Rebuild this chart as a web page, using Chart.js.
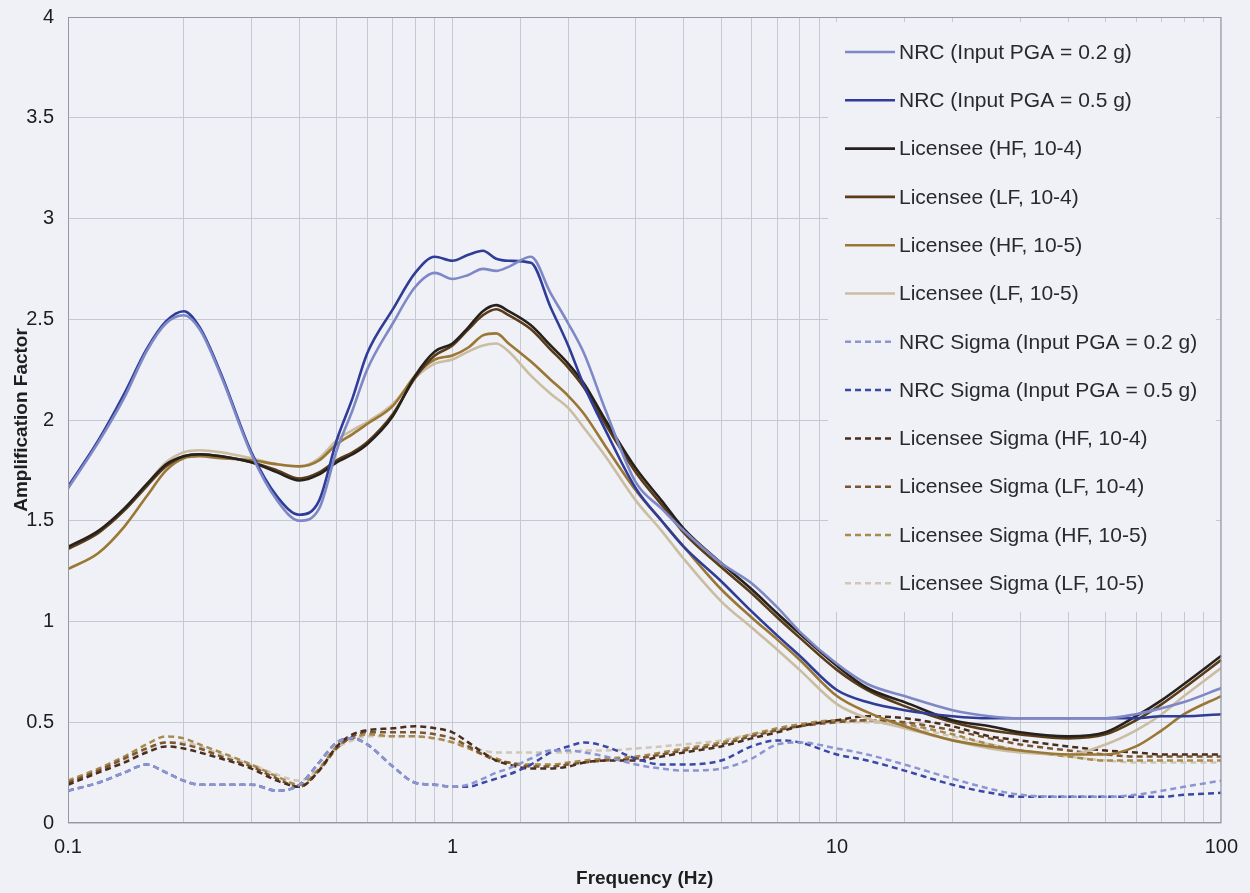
<!DOCTYPE html>
<html>
<head>
<meta charset="utf-8">
<title>Amplification Factor</title>
<script src="https://cdn.jsdelivr.net/npm/chart.js@4.4.1/dist/chart.umd.min.js"></script>
<style>
    html, body { margin: 0; padding: 0; background: #eff1f6; }
    #ampChart { display: block; }
</style>
</head>
<body>
<canvas id="ampChart" width="1250" height="893"></canvas>
<script>
// frequency points (Hz) shared by every curve
const freq = [0.1, 0.12, 0.14, 0.16, 0.18, 0.2, 0.22, 0.25, 0.3, 0.35, 0.4, 0.45, 0.5, 0.55, 0.6, 0.7, 0.8, 0.9,
    1, 1.1, 1.2, 1.3, 1.4, 1.6, 1.8, 2, 2.2, 2.5, 3, 3.5, 4, 5, 6, 7, 8, 10, 12, 15, 20, 25, 30, 40, 50, 60, 70, 80, 100];

const xTickLabels = [0.1, 1, 10, 100];
const yTicks = [0, 0.5, 1, 1.5, 2, 2.5, 3, 3.5, 4];

const seriesNames = [
    'NRC (Input PGA = 0.2 g)', 'NRC (Input PGA = 0.5 g)',
    'Licensee (HF, 10-4)', 'Licensee (LF, 10-4)', 'Licensee (HF, 10-5)', 'Licensee (LF, 10-5)',
    'NRC Sigma (Input PGA = 0.2 g)', 'NRC Sigma (Input PGA = 0.5 g)',
    'Licensee Sigma (HF, 10-4)', 'Licensee Sigma (LF, 10-4)', 'Licensee Sigma (HF, 10-5)', 'Licensee Sigma (LF, 10-5)'
];

const nrcPga02 = [1.66, 1.89, 2.11, 2.34, 2.48, 2.52, 2.45, 2.22, 1.83, 1.60, 1.50, 1.56, 1.85, 2.05, 2.25, 2.48, 2.66, 2.73,
    2.70, 2.72, 2.75, 2.74, 2.76, 2.81, 2.63, 2.48, 2.33, 2.05, 1.69, 1.56, 1.45, 1.29, 1.19, 1.07, 0.95, 0.79, 0.69, 0.63, 0.56, 0.53, 0.52, 0.52, 0.52, 0.54, 0.57, 0.60, 0.67];
const nrcPga05 = [1.67, 1.90, 2.13, 2.35, 2.49, 2.54, 2.46, 2.23, 1.84, 1.62, 1.53, 1.60, 1.90, 2.11, 2.33, 2.55, 2.73, 2.81,
    2.79, 2.82, 2.84, 2.80, 2.79, 2.78, 2.56, 2.37, 2.17, 1.95, 1.66, 1.50, 1.37, 1.20, 1.05, 0.93, 0.83, 0.66, 0.60, 0.56, 0.53, 0.52, 0.52, 0.52, 0.52, 0.52, 0.53, 0.53, 0.54];
const licHF4 = [1.37, 1.45, 1.56, 1.68, 1.78, 1.82, 1.83, 1.82, 1.79, 1.74, 1.70, 1.73, 1.79, 1.83, 1.88, 2.02, 2.22, 2.34,
    2.38, 2.46, 2.54, 2.57, 2.54, 2.47, 2.37, 2.28, 2.18, 2.00, 1.76, 1.60, 1.46, 1.29, 1.16, 1.04, 0.94, 0.78, 0.67, 0.60, 0.51, 0.48, 0.45, 0.43, 0.45, 0.53, 0.61, 0.69, 0.83];
const licLF4 = [1.36, 1.44, 1.55, 1.67, 1.77, 1.82, 1.83, 1.82, 1.79, 1.75, 1.71, 1.74, 1.80, 1.84, 1.89, 2.03, 2.21, 2.32,
    2.37, 2.45, 2.52, 2.55, 2.52, 2.45, 2.35, 2.26, 2.16, 1.98, 1.74, 1.58, 1.44, 1.27, 1.14, 1.02, 0.92, 0.76, 0.66, 0.58, 0.50, 0.46, 0.44, 0.42, 0.44, 0.51, 0.59, 0.67, 0.81];
const licHF5 = [1.26, 1.34, 1.47, 1.62, 1.75, 1.81, 1.82, 1.81, 1.80, 1.78, 1.77, 1.80, 1.88, 1.93, 1.98, 2.07, 2.22, 2.30,
    2.32, 2.36, 2.42, 2.43, 2.38, 2.29, 2.20, 2.12, 2.03, 1.87, 1.65, 1.50, 1.37, 1.16, 1.02, 0.91, 0.81, 0.63, 0.55, 0.48, 0.41, 0.38, 0.36, 0.34, 0.34, 0.38, 0.46, 0.54, 0.63];
const licLF5 = [1.37, 1.45, 1.56, 1.68, 1.79, 1.84, 1.85, 1.84, 1.81, 1.78, 1.77, 1.81, 1.90, 1.95, 1.99, 2.08, 2.21, 2.28,
    2.30, 2.34, 2.37, 2.38, 2.34, 2.22, 2.13, 2.06, 1.96, 1.82, 1.60, 1.45, 1.31, 1.10, 0.97, 0.86, 0.76, 0.59, 0.52, 0.47, 0.41, 0.37, 0.35, 0.34, 0.39, 0.46, 0.54, 0.63, 0.77];

const nrcSigma02 = [0.16, 0.20, 0.25, 0.29, 0.25, 0.21, 0.19, 0.19, 0.19, 0.16, 0.19, 0.30, 0.40, 0.42, 0.39, 0.28, 0.20, 0.19,
    0.18, 0.19, 0.22, 0.25, 0.27, 0.32, 0.36, 0.36, 0.35, 0.33, 0.29, 0.27, 0.26, 0.27, 0.32, 0.39, 0.40, 0.37, 0.34, 0.29, 0.22, 0.17, 0.14, 0.13, 0.13, 0.14, 0.16, 0.18, 0.21];
const nrcSigma05 = [0.16, 0.20, 0.25, 0.29, 0.25, 0.21, 0.19, 0.19, 0.19, 0.16, 0.19, 0.30, 0.40, 0.42, 0.39, 0.28, 0.20, 0.19,
    0.18, 0.18, 0.20, 0.22, 0.24, 0.29, 0.35, 0.38, 0.40, 0.38, 0.32, 0.29, 0.29, 0.31, 0.38, 0.41, 0.40, 0.34, 0.31, 0.26, 0.19, 0.15, 0.13, 0.13, 0.13, 0.13, 0.13, 0.14, 0.15];
const licSigmaHF4 = [0.19, 0.25, 0.30, 0.35, 0.38, 0.37, 0.35, 0.32, 0.27, 0.21, 0.18, 0.26, 0.38, 0.44, 0.46, 0.47, 0.48, 0.47,
    0.45, 0.40, 0.35, 0.31, 0.29, 0.27, 0.27, 0.28, 0.30, 0.31, 0.31, 0.33, 0.35, 0.38, 0.42, 0.45, 0.48, 0.51, 0.53, 0.52, 0.48, 0.43, 0.41, 0.38, 0.36, 0.35, 0.34, 0.34, 0.34];
const licSigmaLF4 = [0.20, 0.26, 0.32, 0.37, 0.40, 0.39, 0.37, 0.33, 0.28, 0.22, 0.18, 0.26, 0.37, 0.43, 0.45, 0.45, 0.45, 0.44,
    0.42, 0.38, 0.34, 0.31, 0.30, 0.28, 0.28, 0.29, 0.30, 0.31, 0.32, 0.34, 0.36, 0.39, 0.43, 0.46, 0.48, 0.50, 0.51, 0.50, 0.46, 0.42, 0.39, 0.36, 0.34, 0.33, 0.33, 0.33, 0.33];
const licSigmaHF5 = [0.21, 0.27, 0.33, 0.39, 0.43, 0.42, 0.39, 0.35, 0.29, 0.23, 0.19, 0.27, 0.38, 0.42, 0.44, 0.43, 0.43, 0.42,
    0.40, 0.37, 0.34, 0.32, 0.30, 0.29, 0.29, 0.30, 0.31, 0.32, 0.33, 0.35, 0.37, 0.40, 0.44, 0.47, 0.49, 0.51, 0.51, 0.49, 0.44, 0.39, 0.36, 0.33, 0.31, 0.31, 0.31, 0.31, 0.31];
const licSigmaLF5 = [0.20, 0.26, 0.31, 0.36, 0.40, 0.40, 0.38, 0.34, 0.29, 0.24, 0.21, 0.27, 0.37, 0.41, 0.43, 0.43, 0.43, 0.42,
    0.40, 0.38, 0.36, 0.35, 0.35, 0.35, 0.35, 0.35, 0.36, 0.36, 0.37, 0.38, 0.39, 0.41, 0.44, 0.46, 0.48, 0.50, 0.50, 0.48, 0.43, 0.39, 0.36, 0.33, 0.31, 0.30, 0.30, 0.30, 0.30];

(function () {
    const fontFamily = '"Liberation Sans", Arial, sans-serif';
    const bgColor = '#eff1f6';
    const gridColor = '#c6c9d3';

    function Points(values) {
        return freq.map(function (f, i) { return { x: f, y: values[i] }; });
    }

    function Series(index, values, color, dashed) {
        return {
            label: seriesNames[index],
            data: Points(values),
            borderColor: color,
            backgroundColor: color,
            borderWidth: dashed ? 2.5 : 2.6,
            borderDash: dashed ? [6, 4] : [],
            pointRadius: 0,
            cubicInterpolationMode: 'monotone',
            fill: false
        };
    }

    // paints the page colour, the legend box inside the plot and the plot frame
    const chartDecor = {
        id: 'chartDecor',
        beforeDraw: function (chart) {
            const ctx = chart.ctx;
            ctx.save();
            ctx.fillStyle = bgColor;
            ctx.fillRect(0, 0, chart.width, chart.height);
            ctx.restore();
        },
        afterDraw: function (chart, args, opts) {
            const ctx = chart.ctx;
            const area = chart.chartArea;
            ctx.save();
            ctx.fillStyle = bgColor;
            ctx.fillRect(opts.boxX, opts.boxY, opts.boxW, opts.boxH);

            ctx.font = '21px ' + fontFamily;
            ctx.textBaseline = 'middle';
            ctx.textAlign = 'left';
            chart.data.datasets.forEach(function (ds, i) {
                const y = opts.top + i * opts.rowGap;
                ctx.beginPath();
                ctx.setLineDash(ds.borderDash || []);
                ctx.strokeStyle = ds.borderColor;
                ctx.lineWidth = ds.borderWidth;
                ctx.moveTo(opts.left, y);
                ctx.lineTo(opts.left + opts.lineLength, y);
                ctx.stroke();
                ctx.setLineDash([]);
                ctx.fillStyle = '#2a2a2e';
                ctx.fillText(ds.label, opts.left + opts.lineLength + 4, y + 1);
            });

            ctx.strokeStyle = '#9498a3';
            ctx.lineWidth = 1;
            ctx.strokeRect(area.left + 0.5, area.top + 0.5, area.right - area.left - 1, area.bottom - area.top - 1);
            ctx.restore();
        }
    };

    function AmplificationChart() {
        const ctx = document.getElementById('ampChart').getContext('2d');
        const chart = new Chart(ctx, {
            type: 'line',
            data: {
                datasets: [
                    Series(0, nrcPga02, '#7f88c6', false),
                    Series(1, nrcPga05, '#2f3d98', false),
                    Series(2, licHF4, '#26211c', false),
                    Series(3, licLF4, '#5b3c18', false),
                    Series(4, licHF5, '#9a7734', false),
                    Series(5, licLF5, '#cbbda2', false),
                    Series(6, nrcSigma02, '#8d95d1', true),
                    Series(7, nrcSigma05, '#3b49a6', true),
                    Series(8, licSigmaHF4, '#4b2d1d', true),
                    Series(9, licSigmaLF4, '#7b5630', true),
                    Series(10, licSigmaHF5, '#a88a4c', true),
                    Series(11, licSigmaLF5, '#d0c7b6', true)
                ]
            },
            options: {
                responsive: false,
                animation: false,
                devicePixelRatio: 1,
                layout: { padding: { top: 17, right: 28, left: 0, bottom: 0 } },
                plugins: {
                    legend: { display: false },
                    tooltip: { enabled: false },
                    chartDecor: { boxX: 828, boxY: 22, boxW: 388, boxH: 590, left: 845, top: 52, rowGap: 48.3, lineLength: 50 }
                },
                scales: {
                    x: {
                        type: 'logarithmic',
                        min: 0.1,
                        max: 100,
                        grid: { color: gridColor, lineWidth: 1, drawTicks: false },
                        border: { display: false },
                        ticks: {
                            autoSkip: false,
                            maxRotation: 0,
                            padding: 12,
                            color: '#1e1e1e',
                            font: { family: fontFamily, size: 20 },
                            callback: function (value) {
                                const v = Number(Number(value).toPrecision(3));
                                return xTickLabels.indexOf(v) >= 0 ? String(v) : '';
                            }
                        },
                        title: {
                            display: true,
                            text: 'Frequency (Hz)',
                            color: '#1e1e1e',
                            font: { family: fontFamily, size: 19, weight: 'bold' },
                            padding: { top: 0, bottom: 3 }
                        },
                        afterFit: function (scale) { scale.height = 70; }
                    },
                    y: {
                        min: 0,
                        max: 4,
                        grid: { color: gridColor, lineWidth: 1, drawTicks: false },
                        border: { display: false },
                        afterBuildTicks: function (scale) {
                            scale.ticks = yTicks.map(function (v) { return { value: v }; });
                        },
                        ticks: {
                            padding: 14,
                            color: '#1e1e1e',
                            font: { family: fontFamily, size: 20 },
                            callback: function (value) { return String(value); }
                        },
                        title: {
                            display: true,
                            text: 'Amplification Factor',
                            color: '#1e1e1e',
                            font: { family: fontFamily, size: 19, weight: 'bold' },
                            padding: { top: 10, bottom: 0 }
                        },
                        afterFit: function (scale) {
                            scale.width = 68;
                            scale.paddingTop = 0;
                            scale.paddingBottom = 0;
                        }
                    }
                }
            },
            plugins: [chartDecor]
        });
        return chart;
    }

    window.onload = function () {
        AmplificationChart();
    };
})();
</script>
</body>
</html>
